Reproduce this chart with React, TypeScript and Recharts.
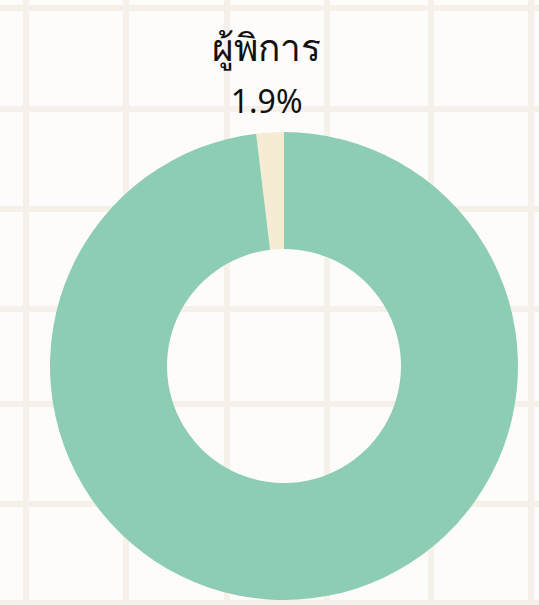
import React from 'react';
import { PieChart, Pie, Cell } from 'recharts';

// data
const groups = ['ผู้พิการ', 'อื่น ๆ'];
const shares = [1.9, 98.1];
const colors = ['#f5ecd3', '#8dcdb3'];

// background grid (decorative)
const gridX = [26, 126, 227, 327, 431, 531];
const gridY = [8, 109, 209, 309, 404, 504, 603];

const data = groups.map((name, i) => ({ name, value: shares[i] }));

const RADIAN = Math.PI / 180;

function renderLabel(props) {
  const { cx, cy, midAngle, index, name, value } = props;
  if (index !== 0) return null;
  const r = 292;
  const x = cx + r * Math.cos(-midAngle * RADIAN);
  const y = cy + r * Math.sin(-midAngle * RADIAN);
  return (
    <text
      x={x}
      textAnchor="middle"
      fill="#111"
      fontFamily="'Noto Sans', sans-serif"
    >
      <tspan x={x} y={y - 14} fontSize={37}>{name}</tspan>
      <tspan x={x} y={y + 38} fontSize={32}>{value.toFixed(1)}%</tspan>
    </text>
  );
}

export default function App() {
  return (
    <div
      style={{
        position: 'absolute',
        left: 0,
        top: 0,
        width: 539,
        height: 605,
        overflow: 'hidden',
        background: '#fdfcfa',
      }}
    >
      {gridX.map(x => (
        <div
          key={'x' + x}
          style={{ position: 'absolute', left: x - 3, top: 0, width: 6, height: 605, background: '#f5f0ea' }}
        />
      ))}
      {gridY.map(y => (
        <div
          key={'y' + y}
          style={{ position: 'absolute', top: y - 3, left: 0, height: 6, width: 539, background: '#f5f0ea' }}
        />
      ))}
      <div style={{ position: 'absolute', left: 0, top: 0 }}>
        <PieChart width={539} height={605} margin={{ top: 0, right: 0, bottom: 0, left: 0 }}>
          <Pie
            data={data}
            dataKey="value"
            nameKey="name"
            cx={284}
            cy={366}
            innerRadius={117}
            outerRadius={234}
            startAngle={90}
            endAngle={450}
            stroke="none"
            label={renderLabel}
            labelLine={false}
            isAnimationActive={false}
          >
            {data.map((d, i) => (
              <Cell key={d.name} fill={colors[i]} />
            ))}
          </Pie>
        </PieChart>
      </div>
    </div>
  );
}
